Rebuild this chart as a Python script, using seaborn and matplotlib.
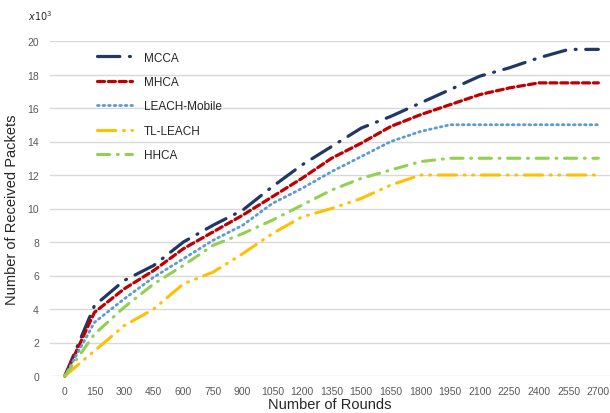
import matplotlib
matplotlib.use("Agg")
import matplotlib.pyplot as plt
import seaborn as sns
import pandas as pd

rounds = [0, 150, 300, 450, 600, 750, 900, 1050, 1200, 1350, 1500, 1650, 1800,
          1950, 2100, 2250, 2400, 2550, 2700]
mcca = [0, 4.2, 5.7, 6.6, 8.0, 9.0, 9.9, 11.3, 12.6, 13.7, 14.8, 15.5, 16.3,
        17.1, 17.9, 18.4, 19.0, 19.5, 19.5]
mhca = [0, 3.8, 5.2, 6.3, 7.6, 8.6, 9.6, 10.7, 11.8, 13.0, 13.9, 14.9, 15.6,
        16.2, 16.8, 17.2, 17.5, 17.5, 17.5]
leach_mobile = [0, 3.2, 4.6, 5.9, 7.0, 8.1, 9.0, 10.3, 11.2, 12.2, 13.1, 14.0, 14.6,
                15.0, 15.0, 15.0, 15.0, 15.0, 15.0]
tl_leach = [0, 1.5, 3.0, 4.0, 5.5, 6.2, 7.3, 8.5, 9.5, 10.0, 10.6, 11.4, 12.0,
            12.0, 12.0, 12.0, 12.0, 12.0, 12.0]
hhca = [0, 2.5, 4.1, 5.5, 6.6, 7.8, 8.5, 9.3, 10.2, 11.1, 11.8, 12.3, 12.8,
        13.0, 13.0, 13.0, 13.0, 13.0, 13.0]
series_names = ["MCCA", "MHCA", "LEACH-Mobile", "TL-LEACH", "HHCA"]
y_ticks = [0, 2, 4, 6, 8, 10, 12, 14, 16, 18, 20]

series = [mcca, mhca, leach_mobile, tl_leach, hhca]
colors = ["#1F3864", "#C00000", "#5B9BD5", "#FFC000", "#92D050"]
styles = [(0, (7, 3, 0.3, 3)), (0, (2.2, 1.2)), (0, (0.6, 1.4)),
          (0, (6, 2.5, 0.3, 2.5, 0.3, 2.5)), (0, (4, 2.5, 0.3, 2.5))]
widths = [2.3, 2.3, 2.0, 2.2, 2.2]

sns.set_style("white")
plt.rcParams['font.family'] = ['Liberation Sans', 'DejaVu Sans']

fig = plt.figure(figsize=(6.10, 4.14), dpi=100)
ax = fig.add_axes([50 / 610, 37 / 414, 560 / 610, 335 / 414])

for name, vals, c, ls, lw in zip(series_names, series, colors, styles, widths):
    df = pd.DataFrame({"Rounds": rounds, "Packets": vals})
    sns.lineplot(data=df, x="Rounds", y="Packets", ax=ax, color=c, label=name,
                 linestyle=ls, linewidth=lw, dash_capstyle="round",
                 solid_capstyle="round", clip_on=False)

ax.set_xlim(-75, 2759)
ax.set_ylim(0, 20)
ax.set_xticks(rounds)
ax.set_xticklabels([str(r) for r in rounds])
ax.set_yticks(y_ticks)
ax.set_yticklabels([str(t) for t in y_ticks])
ax.tick_params(axis='x', labelsize=7.5, labelcolor="#595959", length=0, pad=7)
ax.tick_params(axis='y', labelsize=7.5, labelcolor="#595959", length=0, pad=8)
ax.yaxis.grid(True, color="#D9D9D9", linewidth=1.0)
ax.xaxis.grid(False)
ax.set_axisbelow(True)
for s in ax.spines.values():
    s.set_visible(False)

ax.set_xlabel("Number of Rounds", fontsize=10.5, color="#262626", labelpad=1)
ax.set_ylabel("Number of Received Packets", fontsize=10.5, color="#262626", labelpad=6)

fig.text(28 / 610, 1 - 16 / 414, r"$x10^3$", fontsize=7, color="#262626",
         ha="left", va="center", family="DejaVu Serif")

leg = ax.legend(loc="upper left", bbox_to_anchor=(0.065, 1.0), frameon=False,
                fontsize=8.5, labelspacing=1.05, handlelength=3.0,
                handletextpad=1.0)
for t in leg.get_texts():
    t.set_color("#262626")

fig.savefig("out.png", dpi=100)
